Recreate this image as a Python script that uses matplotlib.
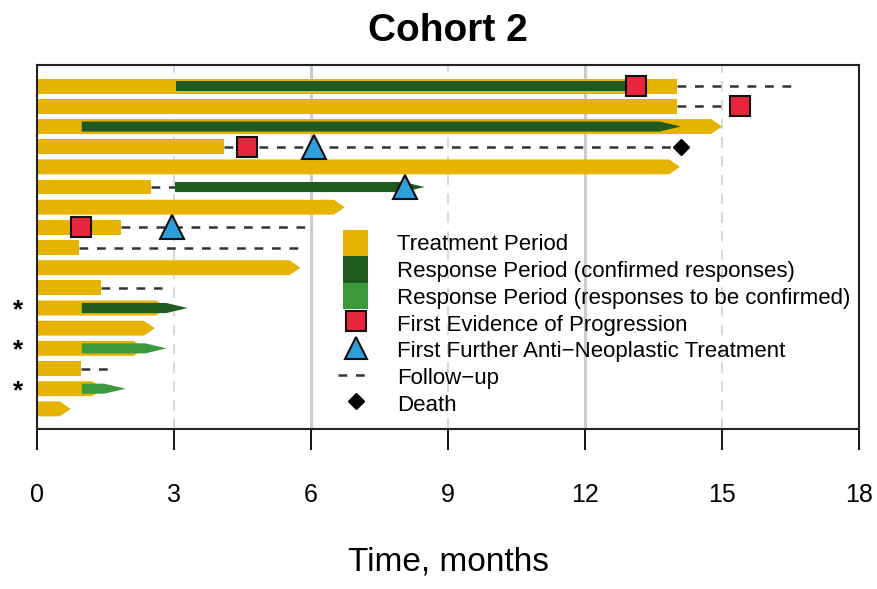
import numpy as np
import matplotlib.pyplot as plt
from matplotlib.patches import Patch, Rectangle
from matplotlib.lines import Line2D
from matplotlib.legend_handler import HandlerPatch

plt.rcParams['font.family'] = ['Liberation Sans', 'DejaVu Sans']

# rows listed top to bottom
treat_end = [14.02, 14.02, 15.0, 4.1, 14.08, 2.49, 6.74, 1.83, 0.92, 5.77,
             1.41, 2.85, 2.58, 2.36, 0.96, 1.45, 0.74]
treat_ongoing = [False, False, True, False, True, False, True, False, False, True,
                 False, True, True, True, False, True, True]

# response periods: (row, start, end, ongoing, confirmed)
resp_row = [1, 3, 6, 12, 14, 16]
resp_start = [3.04, 0.98, 3.02, 0.98, 0.98, 0.98]
resp_end = [13.12, 14.1, 8.49, 3.3, 2.84, 1.94]
resp_ongoing = [False, True, True, True, True, True]
resp_confirmed = [True, True, True, True, False, False]

fu_row = [1, 2, 4, 6, 8, 9, 11, 15]
fu_start = [14.02, 14.02, 4.1, 2.49, 1.83, 0.92, 1.41, 0.96]
fu_end = [16.58, 15.4, 14.1, 3.02, 6.0, 5.88, 2.74, 1.63]

prog_row = [1, 2, 4, 8]
prog_x = [13.12, 15.4, 4.6, 0.96]

anti_row = [4, 6, 8]
anti_x = [6.07, 8.05, 2.95]

death_row = [4]
death_x = [14.1]

star_rows = [12, 14, 16]

xticks = [0, 3, 6, 9, 12, 15, 18]

c_treat = '#E6B400'
c_conf = '#1F5A1F'
c_unconf = '#3C9A3C'
c_prog = '#E8253A'
c_anti = '#2E9FD9'

n = len(treat_end)


def ypos(r):
    return n + 1 - r


def draw_bar(ax, x0, x1, y, h, arrow, color, tip, z):
    if arrow:
        xs = [x0, x1 - tip, x1, x1 - tip, x0]
        ys = [y - h / 2, y - h / 2, y, y + h / 2, y + h / 2]
    else:
        xs = [x0, x1, x1, x0]
        ys = [y - h / 2, y - h / 2, y + h / 2, y + h / 2]
    ax.fill(xs, ys, color=color, lw=0, zorder=z)


fig = plt.figure(figsize=(8.77, 5.89), dpi=100)
ax = fig.add_axes([0.0422, 0.2716, 0.9373, 0.618])

# background grid
for v in [3, 9, 15]:
    ax.axvline(v, color='#d9d9d9', lw=1.5, ls=(0, (5, 4)), zorder=0)
for v in [6, 12]:
    ax.axvline(v, color='#cccccc', lw=2.2, zorder=0)

for i in range(n):
    draw_bar(ax, 0, treat_end[i], ypos(i + 1), 0.74, treat_ongoing[i], c_treat, 0.24, 2)

for i in range(len(fu_row)):
    ax.plot([fu_start[i], fu_end[i]], [ypos(fu_row[i])] * 2, color='#333333',
            lw=1.8, ls=(0, (3.5, 3.5)), zorder=3)

for i in range(len(resp_row)):
    col = c_conf if resp_confirmed[i] else c_unconf
    draw_bar(ax, resp_start[i], resp_end[i], ypos(resp_row[i]), 0.5,
             resp_ongoing[i], col, 0.47, 4)

ax.plot(prog_x, [ypos(r) for r in prog_row], 's', ms=14, mfc=c_prog, mec='#111111',
        mew=1.5, ls='none', zorder=6)
ax.plot(anti_x, [ypos(r) for r in anti_row], '^', ms=17, mfc=c_anti, mec='#111111',
        mew=1.5, ls='none', zorder=6)
ax.plot(death_x, [ypos(r) for r in death_row], 'D', ms=8, mfc='black', mec='black',
        ls='none', zorder=6)

for r in star_rows:
    ax.text(-0.42, ypos(r) - 0.12, '*', fontsize=19, fontweight='bold',
            ha='center', va='center', clip_on=False)

ax.set_xlim(0, 18)
ax.set_ylim(0, 18.05)
ax.set_yticks([])
ax.set_xticks(xticks)
ax.set_xticklabels([str(t) for t in xticks], fontsize=18)
ax.tick_params(axis='x', direction='out', length=15, width=1.3, pad=24)
for s in ax.spines.values():
    s.set_linewidth(1.5)
    s.set_color('#222222')

ax.set_title('Cohort 2', fontsize=28, fontweight='bold', pad=17)
ax.set_xlabel('Time, months', fontsize=24, labelpad=28)


class NarrowPatch(HandlerPatch):
    def create_artists(self, legend, orig_handle, xdescent, ydescent, width,
                       height, fontsize, trans):
        h = height * 1.15
        w = h * 0.95
        p = Rectangle((xdescent + (width - w) / 2, -ydescent - (h - height) / 2), w, h,
                      facecolor=orig_handle.get_facecolor(), lw=0, transform=trans)
        return [p]


handles = [
    Patch(facecolor=c_treat),
    Patch(facecolor=c_conf),
    Patch(facecolor=c_unconf),
    Line2D([], [], marker='s', ms=14, mfc=c_prog, mec='#111111', mew=1.5, ls='none'),
    Line2D([], [], marker='^', ms=16, mfc=c_anti, mec='#111111', mew=1.5, ls='none'),
    Line2D([], [], color='#333333', lw=1.8, ls=(0, (3.5, 3.5))),
    Line2D([], [], marker='D', ms=8, mfc='black', mec='black', ls='none'),
]
labels = ['Treatment Period',
          'Response Period (confirmed responses)',
          'Response Period (responses to be confirmed)',
          'First Evidence of Progression',
          'First Further Anti\u2212Neoplastic Treatment',
          'Follow\u2212up',
          'Death']
ax.legend(handles, labels, loc='upper left', bbox_to_anchor=(0.366, 0.543),
          frameon=False, fontsize=16, handlelength=1.6, handleheight=1.2,
          labelspacing=0.13, handletextpad=1.05, borderpad=0, borderaxespad=0,
          handler_map={Patch: NarrowPatch()})

fig.savefig('out.png', dpi=100)
